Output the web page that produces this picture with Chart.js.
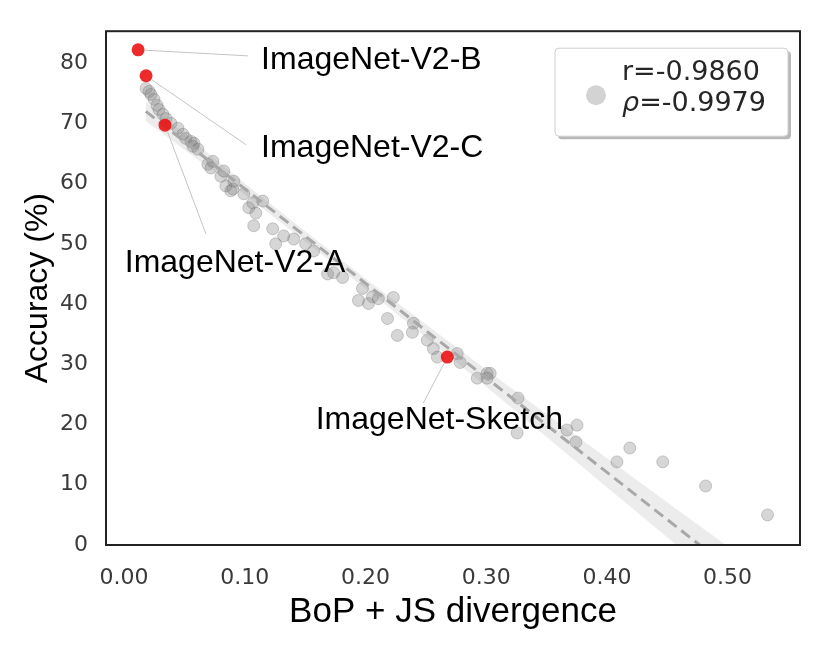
<!DOCTYPE html>
<html><head><meta charset="utf-8">
<script src="https://cdn.jsdelivr.net/npm/chart.js@4.4.0/dist/chart.umd.min.js"></script>
<style>html,body{margin:0;padding:0;background:#fff;} #wrap{width:830px;height:659px;position:relative;}</style>
</head><body><div id="wrap"><canvas id="c" width="830" height="659"></canvas></div>
<script>
// ---- data ----
const grayX = [0.0182,0.0207,0.0223,0.0248,0.0273,0.0289,0.0322,0.0347,0.0388,0.0446,0.0488,0.0512,0.0554,0.0579,0.0570,0.0612,
  0.0694,0.0719,0.0736,0.0802,0.0826,0.0843,0.0884,0.0901,0.0909,0.0992,0.1033,0.1066,0.1149,0.1091,0.1074,0.1231,0.1322,0.1405,
  0.1256,0.1504,0.1570,0.1686,0.1736,0.1810,0.1942,0.2025,0.1975,0.2058,0.2107,0.2231,0.2182,0.2264,0.2397,0.2388,0.2512,0.2562,
  0.2595,0.2760,0.2785,0.2926,0.3008,0.3033,0.3008,0.3264,0.3256,0.3669,0.3752,0.3744,0.4190,0.4083,0.4463,0.4818,0.5331];
const grayY = [75.8,75.3,74.8,74.0,73.0,72.3,71.5,70.8,70.0,69.2,68.2,67.5,67.0,66.7,66.2,65.7,
  63.2,62.6,63.7,61.2,62.1,59.6,58.8,59.1,60.4,58.3,56.0,56.8,57.1,55.1,53.0,52.5,51.3,50.8,
  50.0,50.0,48.8,45.0,45.2,44.4,40.6,40.1,42.6,41.2,40.9,41.1,37.6,34.8,36.8,35.3,34.0,32.6,
  31.2,31.8,30.3,27.7,28.5,28.5,27.7,24.4,18.6,19.1,19.9,17.1,16.1,13.8,13.8,9.8,5.0];
const shiftNames = ['ImageNet-V2-B','ImageNet-V2-C','ImageNet-V2-A','ImageNet-Sketch'];
const shiftX = [0.0116,0.0182,0.0339,0.2678];
const shiftY = [82.2,77.9,69.7,31.2];
const fitX = [0.018,0.533];
const fitY = [72.0,-8.8];
const bandX = [0.018,0.10,0.20,0.30,0.40,0.48,0.533];
const bandLow = [70.4,58.2,42.6,26.3,9.6,-3.7,-12.6];
const bandHigh = [73.6,60.0,44.2,29.1,14.4,2.7,-5.0];
const xTicks = [0,0.1,0.2,0.3,0.4,0.5];
const yTicks = [0,10,20,30,40,50,60,70,80];
const statSymbols = ['r','ρ'];
const statValues = ['-0.9860','-0.9979'];
const xTitle = 'BoP + JS divergence';
const yTitle = 'Accuracy (%)';

// ---- styling / placement (pixels) ----
const annotPlace = [
  {tx:123, ty:10, align:'left', lx:110, ly:6},
  {tx:115, ty:72, align:'left', lx:100, ly:69},
  {tx:70, ty:138, align:'center', lx:41, ly:109},
  {tx:-8, ty:63, align:'center', lx:-24, ly:46}
];
const legendPlace = {rightInset:12, topInset:17, w:233, h:88};

const pts = (xs, ys) => xs.map((x,i)=>({x:x, y:ys[i]}));

const annotPlugin = {
  id:'annot',
  afterDatasetsDraw(chart){
    const ctx = chart.ctx, sx = chart.scales.x, sy = chart.scales.y;
    ctx.save();
    shiftNames.forEach((name,i)=>{
      const px = sx.getPixelForValue(shiftX[i]), py = sy.getPixelForValue(shiftY[i]);
      const p = annotPlace[i];
      const ex = px + p.lx, ey = py + p.ly;
      const d = Math.hypot(ex-px, ey-py);
      ctx.strokeStyle = '#c4c4c4'; ctx.lineWidth = 1;
      ctx.beginPath();
      ctx.moveTo(px + (ex-px)/d*7, py + (ey-py)/d*7);
      ctx.lineTo(ex, ey); ctx.stroke();
      ctx.fillStyle = '#000';
      ctx.font = '32px "Liberation Sans", Arial, sans-serif';
      ctx.textAlign = p.align; ctx.textBaseline = 'middle';
      ctx.fillText(name, px + p.tx, py + p.ty);
    });
    ctx.restore();
  },
  afterDraw(chart){
    const ctx = chart.ctx, a = chart.chartArea;
    ctx.save();
    // frame
    ctx.strokeStyle = '#222'; ctx.lineWidth = 2;
    ctx.strokeRect(a.left, a.top, a.right-a.left, a.bottom-a.top);
    // legend box
    const L = legendPlace;
    const bx = a.right - L.rightInset - L.w, by = a.top + L.topInset;
    const rr = (x,y,w,h,r)=>{ctx.beginPath();ctx.moveTo(x+r,y);ctx.lineTo(x+w-r,y);ctx.quadraticCurveTo(x+w,y,x+w,y+r);
      ctx.lineTo(x+w,y+h-r);ctx.quadraticCurveTo(x+w,y+h,x+w-r,y+h);ctx.lineTo(x+r,y+h);ctx.quadraticCurveTo(x,y+h,x,y+h-r);
      ctx.lineTo(x,y+r);ctx.quadraticCurveTo(x,y,x+r,y);ctx.closePath();};
    ctx.fillStyle = 'rgba(0,0,0,0.28)'; rr(bx+3,by+3,L.w,L.h,4); ctx.fill();
    ctx.fillStyle = '#fff'; rr(bx,by,L.w,L.h,4); ctx.fill();
    ctx.strokeStyle = '#d0d0d0'; ctx.lineWidth = 1; rr(bx,by,L.w,L.h,4); ctx.stroke();
    ctx.fillStyle = '#d3d3d3'; ctx.beginPath(); ctx.arc(bx+41, by+47, 10, 0, Math.PI*2); ctx.fill();
    ctx.fillStyle = '#262626'; ctx.textBaseline = 'middle'; ctx.textAlign = 'left';
    const tx = bx + 67;
    [by+25, by+56].forEach((ty,i)=>{
      ctx.font = (i===1?'italic ':'') + '27px "DejaVu Sans", sans-serif';
      ctx.fillText(statSymbols[i], tx, ty);
      const w = ctx.measureText(statSymbols[i]).width;
      ctx.font = '27px "DejaVu Sans", sans-serif';
      ctx.fillText('=' + statValues[i], tx + w, ty);
    });
    ctx.restore();
  }
};

new Chart(document.getElementById('c'), {
  type:'scatter',
  data:{datasets:[
    {label:'shift', data:pts(shiftX,shiftY), backgroundColor:'rgba(236,20,20,0.9)', borderWidth:0, pointRadius:6.5, order:0},
    {label:'fit', data:pts(fitX,fitY), showLine:true, pointRadius:0, borderColor:'#a8a8a8', borderWidth:3, borderDash:[11,6], clip:0, order:1},
    {label:'models', data:pts(grayX,grayY), backgroundColor:'rgba(128,128,128,0.32)', borderColor:'rgba(100,100,100,0.3)', borderWidth:1, pointRadius:6, order:2},
    {label:'hi', data:pts(bandX,bandHigh), showLine:true, pointRadius:0, borderWidth:0, borderColor:'rgba(0,0,0,0)', fill:false, clip:0, order:3},
    {label:'lo', data:pts(bandX,bandLow), showLine:true, pointRadius:0, borderWidth:0, borderColor:'rgba(0,0,0,0)', fill:'-1', backgroundColor:'rgba(150,150,150,0.18)', clip:0, order:4}
  ]},
  options:{
    responsive:false, animation:false, devicePixelRatio:1,
    layout:{padding:{top:30,right:30,left:0,bottom:0}},
    plugins:{legend:{display:false}, tooltip:{enabled:false}},
    scales:{
      x:{type:'linear', min:-0.015, max:0.56,
        grid:{display:false, drawTicks:false}, border:{display:false},
        afterBuildTicks:s=>{s.ticks = xTicks.map(v=>({value:v}));},
        afterFit:s=>{s.height = 114;},
        ticks:{padding:20, color:'#3a3a3a', font:{family:'DejaVu Sans', size:22}, callback:v=>Number(v).toFixed(2), maxRotation:0},
        title:{display:true, text:xTitle, color:'#000', font:{family:'Liberation Sans', size:35}, padding:{top:0,bottom:26}}
      },
      y:{type:'linear', min:0, max:85.3,
        grid:{display:false, drawTicks:false}, border:{display:false},
        afterBuildTicks:s=>{s.ticks = yTicks.map(v=>({value:v}));},
        afterFit:s=>{s.width = 106;},
        ticks:{padding:18, color:'#3a3a3a', font:{family:'DejaVu Sans', size:22}, callback:v=>String(v)},
        title:{display:true, text:yTitle, color:'#000', font:{family:'Liberation Sans', size:32}, padding:{top:19,bottom:0}}
      }
    }
  },
  plugins:[annotPlugin]
});
</script></body></html>
